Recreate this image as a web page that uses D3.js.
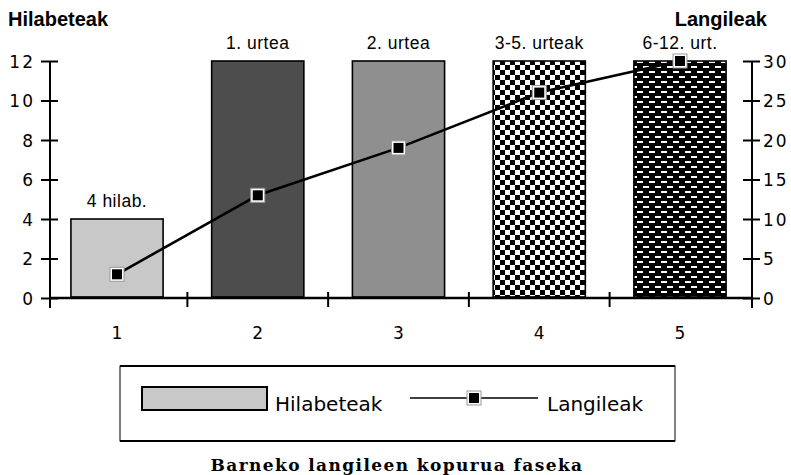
<!DOCTYPE html>
<html>
<head>
<meta charset="utf-8">
<script src="https://cdn.jsdelivr.net/npm/d3@7"></script>
<style>
  body { margin: 0; background: #fff; }
  svg { display: block; }
</style>
</head>
<body>
<div id="chart"></div>
<script>
// Barneko langileen kopurua faseka: bars = hilabeteak (left), line = langileak (right)

const CATEGORIES = ["1", "2", "3", "4", "5"];
const BAR_LABELS = ["4 hilab.", "1. urtea", "2. urtea", "3-5. urteak", "6-12. urt."];
const HILABETEAK = [4, 12, 12, 12, 12];
const LANGILEAK = [3, 13, 19, 26, 30];
const LEFT_TICKS = [0, 2, 4, 6, 8, 10, 12];
const RIGHT_TICKS = [0, 5, 10, 15, 20, 25, 30];

const W = 791, H = 475;

const svg = d3.select("#chart").append("svg")
    .attr("width", W)
    .attr("height", H);

// Patterns for bars 4 and 5
const defs = svg.append("defs");

const checker = defs.append("pattern")
    .attr("id", "checker")
    .attr("patternUnits", "userSpaceOnUse")
    .attr("width", 10).attr("height", 10);
checker.append("rect").attr("width", 10).attr("height", 10).attr("fill", "#fff");
checker.append("rect").attr("width", 5).attr("height", 5).attr("fill", "#000");
checker.append("rect").attr("x", 5).attr("y", 5).attr("width", 5).attr("height", 5).attr("fill", "#000");

const dashes = defs.append("pattern")
    .attr("id", "dashes")
    .attr("patternUnits", "userSpaceOnUse")
    .attr("width", 12).attr("height", 10);
dashes.append("rect").attr("width", 12).attr("height", 10).attr("fill", "#000");
dashes.append("rect").attr("x", 1).attr("y", 1).attr("width", 6).attr("height", 2).attr("fill", "#fff");
dashes.append("rect").attr("x", 7).attr("y", 6).attr("width", 6).attr("height", 2).attr("fill", "#fff");
dashes.append("rect").attr("x", -5).attr("y", 6).attr("width", 6).attr("height", 2).attr("fill", "#fff");

const barFills = ["#c8c8c8", "#4d4d4d", "#8f8f8f", "url(#checker)", "url(#dashes)"];

// Scales
const x = d3.scaleBand()
    .domain(CATEGORIES)
    .range([47, 750])
    .paddingInner(0.345)
    .paddingOuter(0.17);

const yL = d3.scaleLinear().domain([0, 12]).range([298, 61]);
const yR = d3.scaleLinear().domain([0, 30]).range([298, 61]);

const leftX = 50, rightX = 752;
const tickFont = "'DejaVu Sans', sans-serif";
const helv = "'Liberation Sans', Arial, sans-serif";

// Bars
svg.selectAll(".bar")
    .data(HILABETEAK)
    .enter().append("rect")
    .attr("x", (d, i) => x(CATEGORIES[i]))
    .attr("y", d => yL(d))
    .attr("width", x.bandwidth())
    .attr("height", d => yL(0) - yL(d) - 1)
    .attr("fill", (d, i) => barFills[i])
    .attr("stroke", "#000")
    .attr("stroke-width", 1.6);

// Bar labels
svg.selectAll(".barlabel")
    .data(HILABETEAK)
    .enter().append("text")
    .attr("x", (d, i) => x(CATEGORIES[i]) + x.bandwidth() / 2)
    .attr("y", d => yL(d) - 12)
    .attr("text-anchor", "middle")
    .style("font-family", helv)
    .style("font-size", "17.5px")
    .style("letter-spacing", "0.5px")
    .text((d, i) => BAR_LABELS[i]);

// Left axis
const gL = svg.append("g")
    .attr("transform", `translate(${leftX},0)`)
    .call(d3.axisLeft(yL).tickValues(LEFT_TICKS).tickSize(9).tickPadding(6));
gL.select(".domain").remove();
gL.selectAll(".tick line").attr("x1", 8).attr("stroke-width", 2);
gL.selectAll(".tick text")
    .style("font-family", tickFont)
    .style("font-size", "17px")
    .style("letter-spacing", "2px")
    .attr("dy", "0.36em");
gL.append("line")
    .attr("y1", yL(12)).attr("y2", 308)
    .attr("stroke", "#000").attr("stroke-width", 2);

// Right axis
const gR = svg.append("g")
    .attr("transform", `translate(${rightX},0)`)
    .call(d3.axisRight(yR).tickValues(RIGHT_TICKS).tickSize(8).tickPadding(3));
gR.select(".domain").remove();
gR.selectAll(".tick line").attr("x1", -9).attr("stroke-width", 2);
gR.selectAll(".tick text")
    .style("font-family", tickFont)
    .style("font-size", "17px")
    .style("letter-spacing", "2px")
    .attr("dy", "0.36em");
gR.append("line")
    .attr("y1", yR(30)).attr("y2", 308)
    .attr("stroke", "#000").attr("stroke-width", 2);

// Bottom axis: labels at band centres, ticks at band boundaries
const gB = svg.append("g")
    .attr("transform", `translate(0,${yL(0)})`)
    .call(d3.axisBottom(x).tickSize(0).tickPadding(29));
gB.select(".domain").remove();
gB.selectAll(".tick text")
    .style("font-family", tickFont)
    .style("font-size", "17px");
gB.append("line")
    .attr("x1", leftX).attr("x2", rightX)
    .attr("stroke", "#000").attr("stroke-width", 2.5);
const gap = x.step() - x.bandwidth();
gB.selectAll(".sep")
    .data(CATEGORIES.slice(0, -1))
    .enter().append("line")
    .attr("x1", d => x(d) + x.bandwidth() + gap / 2)
    .attr("x2", d => x(d) + x.bandwidth() + gap / 2)
    .attr("y1", -6).attr("y2", 9)
    .attr("stroke", "#000").attr("stroke-width", 2);

// Langileak line
const line = d3.line()
    .x((d, i) => x(CATEGORIES[i]) + x.bandwidth() / 2)
    .y(d => yR(d));

svg.append("path")
    .datum(LANGILEAK)
    .attr("fill", "none")
    .attr("stroke", "#000")
    .attr("stroke-width", 2.6)
    .attr("d", line);

function marker(g, cx, cy) {
    g.append("rect")
        .attr("x", cx - 7).attr("y", cy - 7)
        .attr("width", 14).attr("height", 14)
        .attr("fill", "#fff").attr("stroke", "#999").attr("stroke-width", 1);
    g.append("rect")
        .attr("x", cx - 5).attr("y", cy - 5)
        .attr("width", 10).attr("height", 10)
        .attr("fill", "#000");
}

const gM = svg.append("g");
LANGILEAK.forEach((d, i) => marker(gM, x(CATEGORIES[i]) + x.bandwidth() / 2, yR(d)));

// Axis titles
svg.append("text")
    .attr("x", 8).attr("y", 26)
    .style("font-family", helv)
    .style("font-size", "20px")
    .style("font-weight", "bold")
    .text("Hilabeteak");

svg.append("text")
    .attr("x", 767).attr("y", 26)
    .attr("text-anchor", "end")
    .style("font-family", helv)
    .style("font-size", "20px")
    .style("font-weight", "bold")
    .text("Langileak");

// Legend
const lg = svg.append("g");
lg.append("rect")
    .attr("x", 120).attr("y", 366)
    .attr("width", 555).attr("height", 75)
    .attr("fill", "#fff").attr("stroke", "#000").attr("stroke-width", 1);
lg.append("line").attr("x1", 120).attr("x2", 675).attr("y1", 366).attr("y2", 366)
    .attr("stroke", "#000").attr("stroke-width", 2);
lg.append("line").attr("x1", 120).attr("x2", 675).attr("y1", 441).attr("y2", 441)
    .attr("stroke", "#000").attr("stroke-width", 2);

lg.append("rect")
    .attr("x", 142).attr("y", 387)
    .attr("width", 125).attr("height", 23)
    .attr("fill", barFills[0]).attr("stroke", "#000").attr("stroke-width", 2);
lg.append("text")
    .attr("x", 275).attr("y", 411)
    .style("font-family", tickFont)
    .style("font-size", "20px")
    .text("Hilabeteak");

lg.append("line")
    .attr("x1", 410).attr("x2", 538).attr("y1", 398).attr("y2", 398)
    .attr("stroke", "#000").attr("stroke-width", 1.5);
marker(lg, 474, 398);
lg.append("text")
    .attr("x", 547).attr("y", 411)
    .style("font-family", tickFont)
    .style("font-size", "20px")
    .text("Langileak");

// Title
svg.append("text")
    .attr("x", 397).attr("y", 471)
    .attr("text-anchor", "middle")
    .style("font-family", "'DejaVu Serif', serif")
    .style("font-size", "17px")
    .style("font-weight", "bold")
    .style("letter-spacing", "1.4px")
    .text("Barneko langileen kopurua faseka");
</script>
</body>
</html>
